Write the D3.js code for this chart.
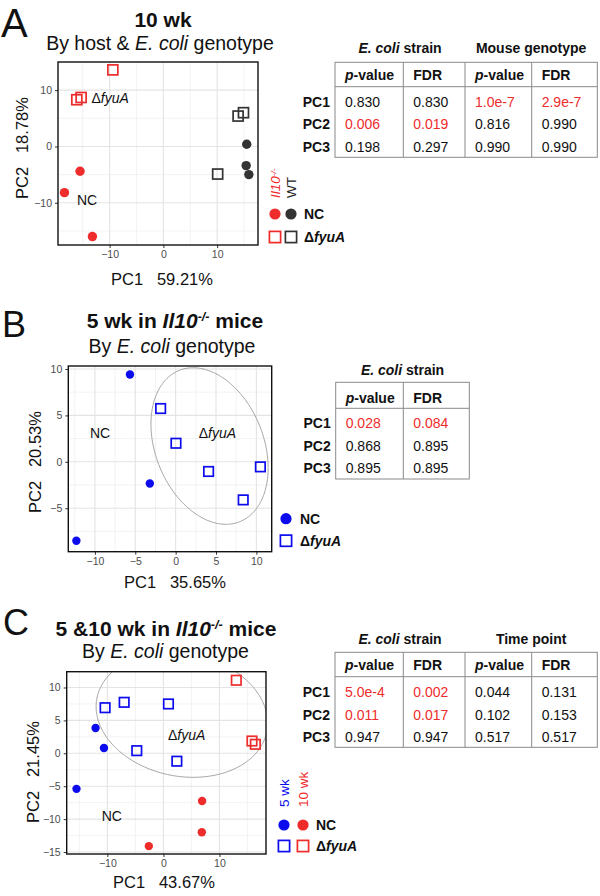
<!DOCTYPE html>
<html>
<head>
<meta charset="utf-8">
<script src="https://cdn.jsdelivr.net/npm/d3@7"></script>
<style>
  body { margin: 0; background: #fff; }
  svg { font-family: "Liberation Sans", Arial, sans-serif; }
</style>
</head>
<body>
<svg width="600" height="896"></svg>
<script>
// ---- panel A : 10 wk, PC scores [PC1, PC2] ----
var aNcIl10 = [[-15.5, -4.4], [-18.4, -8.2], [-13.2, -16.0]];
var aNcWT = [[15.5, 0.4], [15.4, -3.4], [15.9, -5.0]];
var aFyuIl10 = [[-9.4, 13.6], [-15.3, 8.7], [-16.1, 8.3]];
var aFyuWT = [[13.9, 5.4], [14.9, 6.0], [10.1, -4.9]];
var aXTicks = [-10, 0, 10];
var aYTicks = [-10, 0, 10];

// ---- panel B : 5 wk in Il10-/- ----
var bNc = [[-5.66, 9.4], [-3.2, -2.34], [-12.3, -8.5]];
var bFyu = [[-1.86, 5.74], [0.04, 2.0], [4.08, -1.04], [10.5, -0.54], [8.37, -4.1]];
var bXTicks = [-10, -5, 0, 5, 10];
var bYTicks = [-5, 0, 5, 10];
var bEllipse = {cx: 4.2, cy: 1.7, hx: 7.26, hy: 8.43, phi: 1.854};

// ---- panel C : 5 & 10 wk in Il10-/- ----
var cNc5 = [[-12.1, 3.85], [-10.6, 0.8], [-15.5, -5.4]];
var cFyu5 = [[-10.4, 6.93], [-7.0, 7.75], [0.9, 7.5], [-4.75, 0.4], [2.4, -1.2]];
var cNc10 = [[6.9, -7.25], [6.85, -12.0], [-2.6, -14.1]];
var cFyu10 = [[13.0, 11.1], [15.8, 1.87], [16.4, 1.37]];
var cXTicks = [-10, 0, 10];
var cYTicks = [-15, -10, -5, 0, 5, 10];
var cEllipse = {cx: 3.3, cy: 5.85, hx: 15.3, hy: 9.5, phi: 1.703};

// ---- tables ----
var pcRows = ["PC1", "PC2", "PC3"];
var tableAGroups = ["E. coli strain", "Mouse genotype"];
var tableAValues = [["0.830", "0.830", "1.0e-7", "2.9e-7"],
                    ["0.006", "0.019", "0.816", "0.990"],
                    ["0.198", "0.297", "0.990", "0.990"]];
var tableBGroups = ["E. coli strain"];
var tableBValues = [["0.028", "0.084"],
                    ["0.868", "0.895"],
                    ["0.895", "0.895"]];
var tableCGroups = ["E. coli strain", "Time point"];
var tableCValues = [["5.0e-4", "0.002", "0.044", "0.131"],
                    ["0.011", "0.017", "0.102", "0.153"],
                    ["0.947", "0.947", "0.517", "0.517"]];

var RED = "#EE2C2C", BLUE = "#0B0BEE", DARK = "#333333";
var svg = d3.select("svg");

// text with italic/bold pieces: parts = [[text, {italic, bold, sup}]]
function rich(sel, parts) {
  parts.forEach(function (p) {
    var o = p[1] || {};
    var t = sel.append("tspan").text(p[0]);
    if (o.italic) t.attr("font-style", "italic");
    if (o.bold) t.attr("font-weight", "bold");
    if (o.sup) t.attr("baseline-shift", "super").attr("font-size", "0.6em");
  });
  return sel;
}

function fyuParts(bold) {
  return [["\u0394", {bold: bold}], ["fyuA", {italic: true, bold: bold}]];
}

function drawPanel(cfg) {
  var g = svg.append("g");
  var x = d3.scaleLinear().domain(cfg.xDomain).range([cfg.left, cfg.right]);
  var y = d3.scaleLinear().domain(cfg.yDomain).range([cfg.bottom, cfg.top]);

  function minors(ticks, dom) {
    var s = ticks[1] - ticks[0], out = [];
    for (var v = ticks[0] - s / 2; v <= dom[1]; v += s) if (v >= dom[0]) out.push(v);
    return out;
  }
  var grid = g.append("g");
  minors(cfg.xTicks, cfg.xDomain).forEach(function (v) {
    grid.append("line").attr("x1", x(v)).attr("x2", x(v)).attr("y1", cfg.top).attr("y2", cfg.bottom)
      .attr("stroke", "#eeeeee").attr("stroke-width", 0.7);
  });
  minors(cfg.yTicks, cfg.yDomain).forEach(function (v) {
    grid.append("line").attr("y1", y(v)).attr("y2", y(v)).attr("x1", cfg.left).attr("x2", cfg.right)
      .attr("stroke", "#eeeeee").attr("stroke-width", 0.7);
  });
  cfg.xTicks.forEach(function (v) {
    grid.append("line").attr("x1", x(v)).attr("x2", x(v)).attr("y1", cfg.top).attr("y2", cfg.bottom)
      .attr("stroke", "#e4e4e4").attr("stroke-width", 1.1);
  });
  cfg.yTicks.forEach(function (v) {
    grid.append("line").attr("y1", y(v)).attr("y2", y(v)).attr("x1", cfg.left).attr("x2", cfg.right)
      .attr("stroke", "#e4e4e4").attr("stroke-width", 1.1);
  });

  var clipId = "clip" + cfg.id;
  svg.append("clipPath").attr("id", clipId).append("rect")
    .attr("x", cfg.left).attr("y", cfg.top)
    .attr("width", cfg.right - cfg.left).attr("height", cfg.bottom - cfg.top);

  if (cfg.ellipse) {
    var e = cfg.ellipse;
    var pts = d3.range(0, 2 * Math.PI + 0.01, 0.02).map(function (t) {
      return [e.cx + e.hx * Math.cos(t), e.cy + e.hy * Math.cos(t + e.phi)];
    });
    g.append("path").datum(pts)
      .attr("clip-path", "url(#" + clipId + ")")
      .attr("d", d3.line().x(function (d) { return x(d[0]); }).y(function (d) { return y(d[1]); }))
      .attr("fill", "none").attr("stroke", "#9a9a9a").attr("stroke-width", 0.9);
  }

  // axes
  var fmt = d3.format("d");
  var xa = g.append("g").attr("transform", "translate(0," + cfg.bottom + ")")
    .call(d3.axisBottom(x).tickValues(cfg.xTicks).tickSize(3).tickPadding(3).tickFormat(fmt));
  var ya = g.append("g").attr("transform", "translate(" + cfg.left + ",0)")
    .call(d3.axisLeft(y).tickValues(cfg.yTicks).tickSize(3).tickPadding(3).tickFormat(fmt));
  [xa, ya].forEach(function (a) {
    a.select(".domain").remove();
    a.selectAll("line").attr("stroke", DARK);
    a.selectAll("text").attr("fill", "#4d4d4d").attr("font-size", 10.5)
      .attr("font-family", "Liberation Sans, Arial, sans-serif");
  });

  // in-plot labels
  cfg.labels.forEach(function (l) {
    var t = g.append("text").attr("x", x(l.x)).attr("y", y(l.y))
      .attr("text-anchor", "middle").attr("dy", "0.35em").attr("font-size", 14).attr("fill", "#111");
    if (l.text === "fyuA") rich(t, fyuParts(false)); else t.text(l.text);
  });

  // points
  cfg.series.forEach(function (s) {
    if (s.shape === "circle") {
      g.selectAll(null).data(s.data).enter().append("circle")
        .attr("cx", function (d) { return x(d[0]); })
        .attr("cy", function (d) { return y(d[1]); })
        .attr("r", cfg.r).attr("fill", s.color);
    } else {
      var h = cfg.sq / 2;
      g.selectAll(null).data(s.data).enter().append("rect")
        .attr("x", function (d) { return x(d[0]) - h; })
        .attr("y", function (d) { return y(d[1]) - h; })
        .attr("width", cfg.sq).attr("height", cfg.sq)
        .attr("fill", "none").attr("stroke", s.color).attr("stroke-width", 1.7);
    }
  });

  g.append("rect").attr("x", cfg.left).attr("y", cfg.top)
    .attr("width", cfg.right - cfg.left).attr("height", cfg.bottom - cfg.top)
    .attr("fill", "none").attr("stroke", "#111").attr("stroke-width", 1.4);

  // titles
  var mid = cfg.titleX;
  rich(svg.append("text").attr("x", mid).attr("y", cfg.titleY).attr("text-anchor", "middle")
    .attr("font-size", 21).attr("font-weight", "bold").attr("fill", "#111"), cfg.title);
  rich(svg.append("text").attr("x", cfg.subX).attr("y", cfg.subY).attr("text-anchor", "middle")
    .attr("font-size", 19.5).attr("fill", "#111"), cfg.subtitle);
  svg.append("text").attr("x", cfg.letterX).attr("y", cfg.letterY)
    .attr("font-size", cfg.letterSize).attr("fill", "#111").text(cfg.letter);

  svg.append("text").attr("transform", "translate(" + cfg.yLabX + "," + cfg.yLabY + ") rotate(-90)")
    .attr("text-anchor", "middle").attr("font-size", 16.5).attr("fill", "#111")
    .attr("xml:space", "preserve").text(cfg.yLab);
  svg.append("text").attr("x", cfg.xLabX).attr("y", cfg.xLabY)
    .attr("text-anchor", "middle").attr("font-size", 16.5).attr("fill", "#111")
    .attr("xml:space", "preserve").text(cfg.xLab);

  // legend
  var L = cfg.legend;
  L.heads.forEach(function (hd, i) {
    var t = svg.append("text").attr("transform", "translate(" + L.xs[i] + "," + L.headY + ") rotate(-90)")
      .attr("font-size", 13.5).attr("fill", hd.color);
    rich(t, hd.parts);
  });
  L.xs.forEach(function (lx, i) {
    var c = L.colors[i];
    svg.append("circle").attr("cx", lx - 5).attr("cy", L.rowY[0]).attr("r", 5.6).attr("fill", c);
    svg.append("rect").attr("x", lx - 5 - 5.6).attr("y", L.rowY[1] - 5.6).attr("width", 11.2).attr("height", 11.2)
      .attr("fill", "none").attr("stroke", c).attr("stroke-width", 1.7);
  });
  svg.append("text").attr("x", L.textX).attr("y", L.rowY[0] + 5).attr("font-size", 14)
    .attr("font-weight", "bold").attr("fill", "#111").text("NC");
  rich(svg.append("text").attr("x", L.textX).attr("y", L.rowY[1] + 5).attr("font-size", 14)
    .attr("fill", "#111"), fyuParts(true));
}

function drawTable(cfg) {
  var g = svg.append("g").attr("font-size", 14).attr("fill", "#111");
  var cols = cfg.cols;
  var nCol = cols.length - 1;
  // borders
  var bc = "#8a8a8a";
  g.append("rect").attr("x", cols[0]).attr("y", cfg.top).attr("width", cols[nCol] - cols[0])
    .attr("height", cfg.bottom - cfg.top).attr("fill", "none").attr("stroke", bc).attr("stroke-width", 1);
  g.append("line").attr("x1", cols[0]).attr("x2", cols[nCol]).attr("y1", cfg.headBottom).attr("y2", cfg.headBottom)
    .attr("stroke", bc).attr("stroke-width", 1);
  cols.slice(1, nCol).forEach(function (cx) {
    g.append("line").attr("x1", cx).attr("x2", cx).attr("y1", cfg.top).attr("y2", cfg.bottom)
      .attr("stroke", bc).attr("stroke-width", 1);
  });
  // group headers
  cfg.groups.forEach(function (name, i) {
    var cx = (cols[2 * i] + cols[2 * i + 2]) / 2;
    var t = g.append("text").attr("x", cx).attr("y", cfg.groupY).attr("text-anchor", "middle").attr("font-weight", "bold");
    if (name.indexOf("E. coli") === 0) rich(t, [["E. coli", {italic: true}], [name.slice(7)]]);
    else t.text(name);
  });
  // column headers
  for (var j = 0; j < nCol; j++) {
    var t = g.append("text").attr("x", cols[j] + 10).attr("y", cfg.headY).attr("font-weight", "bold");
    if (j % 2 === 0) rich(t, [["p", {italic: true}], ["-value"]]); else t.text("FDR");
  }
  // rows
  pcRows.forEach(function (r, i) {
    var ry = cfg.rowY[i];
    g.append("text").attr("x", cols[0] - 5).attr("y", ry).attr("text-anchor", "end")
      .attr("font-weight", "bold").text(r);
    cfg.values[i].forEach(function (v, j) {
      var fdr = +cfg.values[i][j - (j % 2) + 1];
      g.append("text").attr("x", cols[j] + 10).attr("y", ry)
        .attr("fill", fdr < 0.1 ? RED : "#111").text(v);
    });
  });
}

var il10 = function (bold) { return [["Il10", {italic: true, bold: bold}], ["-/-", {italic: true, bold: bold, sup: true}]]; };

drawPanel({
  id: "A", left: 58, right: 258, top: 62, bottom: 245,
  xDomain: [-19.6, 17.6], yDomain: [-17.5, 15.0], xTicks: aXTicks, yTicks: aYTicks,
  r: 4.7, sq: 10,
  series: [
    {data: aNcIl10, shape: "circle", color: RED}, {data: aNcWT, shape: "circle", color: DARK},
    {data: aFyuIl10, shape: "square", color: RED}, {data: aFyuWT, shape: "square", color: DARK}],
  labels: [{text: "fyuA", x: -9.9, y: 8.65}, {text: "NC", x: -14.2, y: -9.5}],
  title: [["10 wk"]], titleX: 163, titleY: 27,
  subtitle: [["By host & "], ["E. coli", {italic: true}], [" genotype"]], subX: 160, subY: 50,
  letter: "A", letterX: 1, letterY: 37, letterSize: 40,
  yLab: "PC2   18.78%", yLabX: 28, yLabY: 148,
  xLab: "PC1   59.21%", xLabX: 162, xLabY: 285,
  legend: {xs: [280, 296], headY: 198, colors: [RED, DARK], rowY: [214, 237], textX: 304,
    heads: [{color: RED, parts: il10(false)}, {color: "#222", parts: [["WT"]]}]}
});

drawPanel({
  id: "B", left: 68.3, right: 271.7, top: 366, bottom: 551.7,
  xDomain: [-13.3, 11.9], yDomain: [-9.68, 10.32], xTicks: bXTicks, yTicks: bYTicks,
  r: 4.2, sq: 9.5, ellipse: bEllipse,
  series: [{data: bNc, shape: "circle", color: BLUE}, {data: bFyu, shape: "square", color: BLUE}],
  labels: [{text: "NC", x: -9.37, y: 3.05}, {text: "fyuA", x: 5.17, y: 3.05}],
  title: [["5 wk in "]].concat(il10(true)).concat([[" mice"]]), titleX: 175, titleY: 328,
  subtitle: [["By "], ["E. coli", {italic: true}], [" genotype"]], subX: 172, subY: 353,
  letter: "B", letterX: 2, letterY: 337, letterSize: 36,
  yLab: "PC2   20.53%", yLabX: 41, yLabY: 462,
  xLab: "PC1   35.65%", xLabX: 175, xLabY: 588,
  legend: {xs: [291], headY: 0, colors: [BLUE], rowY: [518.7, 540.7], textX: 300, heads: []}
});

drawPanel({
  id: "C", left: 66.7, right: 266, top: 671.7, bottom: 854,
  xDomain: [-17.25, 18.3], yDomain: [-15.3, 12.4], xTicks: cXTicks, yTicks: cYTicks,
  r: 4.2, sq: 9.5, ellipse: cEllipse,
  series: [
    {data: cNc5, shape: "circle", color: BLUE}, {data: cFyu5, shape: "square", color: BLUE},
    {data: cNc10, shape: "circle", color: RED}, {data: cFyu10, shape: "square", color: RED}],
  labels: [{text: "NC", x: -9.2, y: -9.48}, {text: "fyuA", x: 4.14, y: 2.78}],
  title: [["5 &10 wk in "]].concat(il10(true)).concat([[" mice"]]), titleX: 166, titleY: 636,
  subtitle: [["By "], ["E. coli", {italic: true}], [" genotype"]], subX: 165.5, subY: 658,
  letter: "C", letterX: 3, letterY: 635, letterSize: 36,
  yLab: "PC2   21.45%", yLabX: 39, yLabY: 772,
  xLab: "PC1   43.67%", xLabX: 164, xLabY: 888,
  legend: {xs: [289, 308], headY: 807, colors: [BLUE, RED], rowY: [825, 846], textX: 316,
    heads: [{color: BLUE, parts: [["5 wk"]]}, {color: RED, parts: [["10 wk"]]}]}
});

drawTable({cols: [335, 403.3, 465, 531.7, 597.3], top: 62.3, headBottom: 86.7, bottom: 157.3,
  groupY: 53, headY: 80, rowY: [106.7, 129.3, 151.7], groups: tableAGroups, values: tableAValues});
drawTable({cols: [335.7, 403.3, 469.3], top: 382.3, headBottom: 408.3, bottom: 479,
  groupY: 375, headY: 403, rowY: [428.3, 450.7, 473.3], groups: tableBGroups, values: tableBValues});
drawTable({cols: [335, 403.3, 465, 531.7, 597.3], top: 652.3, headBottom: 676.7, bottom: 747.3,
  groupY: 644, headY: 670, rowY: [697.3, 720, 741.7], groups: tableCGroups, values: tableCValues});
</script>
</body>
</html>
